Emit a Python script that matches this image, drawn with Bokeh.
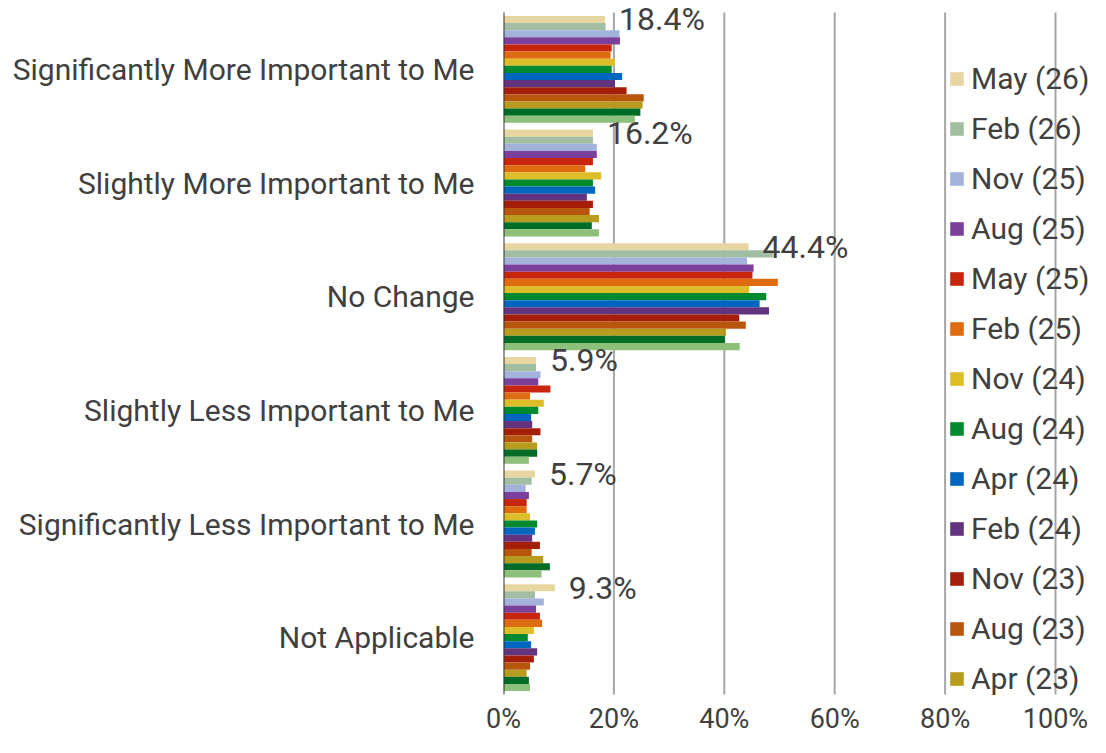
from bokeh.plotting import figure
from bokeh.models import (Range1d, Legend, LegendItem, PrintfTickFormatter,
                          FixedTicker, ColumnDataSource)
from bokeh.transform import dodge
from bokeh.core.properties import value
from bokeh.embed import file_html
from bokeh.resources import INLINE

categories = ["Significantly More Important to Me", "Slightly More Important to Me",
              "No Change", "Slightly Less Important to Me",
              "Significantly Less Important to Me", "Not Applicable"]

series_names = ["May (26)", "Feb (26)", "Nov (25)", "Aug (25)", "May (25)", "Feb (25)",
                "Nov (24)", "Aug (24)", "Apr (24)", "Feb (24)", "Nov (23)", "Aug (23)",
                "Apr (23)", "Feb (23)", "Nov (22)"]

may26 = [18.4, 16.2, 44.4, 5.9, 5.7, 9.3]
feb26 = [18.5, 16.2, 48.8, 5.9, 5.1, 5.7]
nov25 = [21.0, 16.9, 44.1, 6.7, 4.0, 7.3]
aug25 = [21.1, 16.9, 45.3, 6.3, 4.6, 5.9]
may25 = [19.6, 16.2, 45.1, 8.5, 4.2, 6.6]
feb25 = [19.4, 14.8, 49.7, 4.8, 4.2, 7.0]
nov24 = [20.2, 17.7, 44.5, 7.3, 4.8, 5.5]
aug24 = [19.6, 16.2, 47.6, 6.3, 6.1, 4.4]
apr24 = [21.5, 16.6, 46.4, 5.0, 5.7, 5.0]
feb24 = [20.2, 15.1, 48.1, 5.2, 5.2, 6.1]
nov23 = [22.3, 16.2, 42.7, 6.7, 6.6, 5.5]
aug23 = [25.4, 15.6, 43.9, 5.2, 5.1, 4.8]
apr23 = [25.2, 17.3, 40.3, 6.1, 7.2, 4.2]
feb23 = [24.8, 16.0, 40.1, 6.1, 8.4, 4.6]
nov22 = [23.8, 17.3, 42.8, 4.6, 6.9, 4.8]

series_values = [may26, feb26, nov25, aug25, may25, feb25, nov24, aug24, apr24,
                 feb24, nov23, aug23, apr23, feb23, nov22]

colors = ["#E8D6A2", "#A2BEA2", "#A2B2DA", "#7B3F9C", "#C8260C", "#E06C12",
          "#DDBD28", "#008A30", "#0066C0", "#62337E", "#A51E0A", "#B8560E",
          "#B89C1E", "#006C25", "#8DC07B"]

x_ticks = [0, 20, 40, 60, 80, 100]

FONT = "Roboto"
TXT = "#404040"

# category positions (top category highest)
cat_pos = [len(categories) - 1 - k for k in range(len(categories))]

p = figure(width=1090, height=737,
           x_range=Range1d(0, 106.34), y_range=Range1d(-0.5176, 5.6057),
           min_border_left=503, min_border_right=0, min_border_top=0,
           min_border_bottom=37,
           output_backend="svg", toolbar_location=None)

p.outline_line_color = None
p.background_fill_color = "white"
p.xgrid.grid_line_color = None
p.ygrid.grid_line_color = None

# vertical gridlines
p.segment(x0=x_ticks[1:], x1=x_ticks[1:], y0=-0.5, y1=5.5,
          line_color="#A6A6A6", line_width=2)

h = 0.0627
renderers = []
for i, (name, vals, col) in enumerate(zip(series_names, series_values, colors)):
    src = ColumnDataSource(dict(pos=cat_pos, val=vals))
    r = p.hbar(y=dodge("pos", (7 - i) * h), right="val", left=0,
               height=h, source=src, fill_color=col, line_color=None)
    renderers.append(r)

# zero line (category axis line)
p.segment(x0=[0], x1=[0], y0=-0.5, y1=5.5, line_color="#333333", line_width=2)

lab_src = ColumnDataSource(dict(pos=cat_pos, val=may26,
                                txt=[f"{v:.1f}%" for v in may26]))
p.text(x="val", y=dodge("pos", 7 * h), text="txt", source=lab_src,
       x_offset=14, y_offset=0, text_align="left", text_baseline="middle",
       text_font=value(FONT), text_font_size="32px", text_color=TXT)

# axes
p.xaxis.ticker = FixedTicker(ticks=x_ticks)
p.xaxis.formatter = PrintfTickFormatter(format="%d%%")
p.xaxis.axis_line_color = None
p.xaxis.major_tick_line_color = None
p.xaxis.minor_tick_line_color = None
p.xaxis.major_label_standoff = 0
p.xaxis.major_label_text_font = FONT
p.xaxis.major_label_text_font_size = "27px"
p.xaxis.major_label_text_color = TXT

p.yaxis.ticker = FixedTicker(ticks=cat_pos)
p.yaxis.major_label_overrides = {pos: c for pos, c in zip(cat_pos, categories)}
p.yaxis.axis_line_color = None
p.yaxis.major_tick_line_color = None
p.yaxis.minor_tick_line_color = None
p.yaxis.major_label_standoff = 23
p.yaxis.major_label_text_font = FONT
p.yaxis.major_label_text_font_size = "30px"
p.yaxis.major_label_text_color = TXT

items = [LegendItem(label=series_names[i], renderers=[renderers[i]]) for i in range(13)]
legend = Legend(items=items, location=(445, -2), orientation="vertical",
                glyph_width=17, glyph_height=17, label_height=40, spacing=10,
                label_standoff=6, padding=0, margin=0,
                label_text_font=FONT, label_text_font_size="30px",
                label_text_color=TXT, border_line_color=None,
                background_fill_alpha=0)
p.add_layout(legend)

open("out.html", "w").write(file_html(p, INLINE))
